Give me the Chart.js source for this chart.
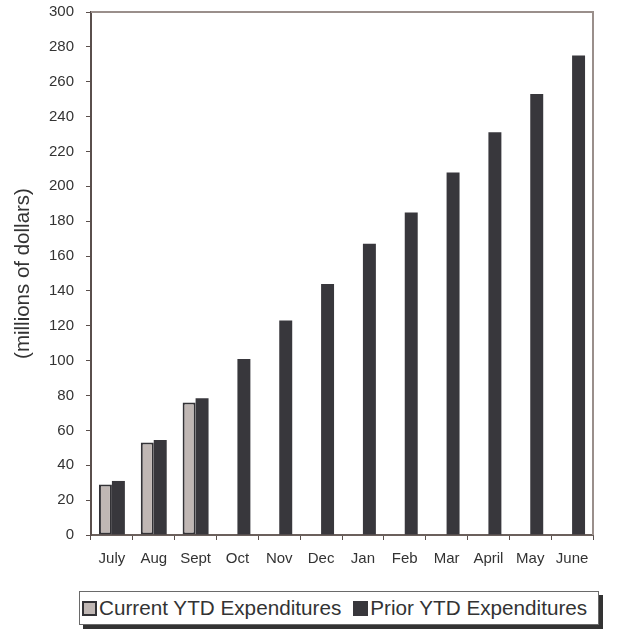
<!DOCTYPE html>
<html>
<head>
<meta charset="utf-8">
<script src="https://cdn.jsdelivr.net/npm/chart.js@4.4.0/dist/chart.umd.min.js"></script>
<style>
body{margin:0;background:#fff;font-family:"Liberation Sans",Arial,sans-serif;}
#wrap{position:relative;width:617px;height:630px;}
#box{position:absolute;left:0;top:0;width:617px;height:580px;}
#legend{position:absolute;left:79px;top:591px;width:518px;height:32px;border:1px solid #6a6a6a;box-shadow:4px 4px 0 #333;background:#fff;display:flex;align-items:center;font-size:20.7px;color:#333;white-space:nowrap;}
#legend .item{display:flex;align-items:center;}
#legend .mark{width:15px;height:15px;box-sizing:border-box;margin-right:2px;}
</style>
</head>
<body>
<div id="wrap">
<div id="box"><canvas id="expChart"></canvas></div>
<div id="legend"></div>
</div>
<script>
//月份
var months = ["July","Aug","Sept","Oct","Nov","Dec","Jan","Feb","Mar","April","May","June"];
//本年累计支出
var currentYtd = [29, 53, 76, null, null, null, null, null, null, null, null, null];
//上年累计支出
var priorYtd = [31, 54.5, 78.5, 101, 123, 144, 167, 185, 208, 231, 253, 275];
var seriesNames = ["Current YTD Expenditures", "Prior YTD Expenditures"];

var ctx = document.getElementById("expChart").getContext("2d");
Chart.defaults.font.family = "'Liberation Sans', Arial, sans-serif";
Chart.defaults.color = "#333";

//画上边和右边的框线
var framePlugin = {
	id: "frame",
	beforeDatasetsDraw: function(chart){
		var a = chart.chartArea, c = chart.ctx;
		c.save();
		c.strokeStyle = "#9a8f8b";
		c.lineWidth = 2;
		c.beginPath();
		c.moveTo(a.left, a.top);
		c.lineTo(a.right, a.top);
		c.lineTo(a.right, a.bottom);
		c.stroke();
		c.restore();
	}
};

var chart = new Chart(ctx, {
	type: "bar",
	data: {
		labels: months,
		datasets: [
			{
				label: seriesNames[0],
				data: currentYtd,
				backgroundColor: "#c0b7b4",
				borderColor: "#333236",
				borderWidth: 2,
				borderSkipped: false
			},
			{
				label: seriesNames[1],
				data: priorYtd,
				backgroundColor: "#38373c",
				borderColor: "#38373c",
				borderWidth: 0
			}]
	},
	options: {
		responsive: true,
		maintainAspectRatio: false,
		animation: false,
		layout: { padding: { top: 12, right: 24, bottom: 0, left: 0 } },
		datasets: { bar: { categoryPercentage: 0.62, barPercentage: 1.0 } },
		plugins: {
			legend: { display: false },
			tooltip: { enabled: false }
		},
		scales: {
			x: {
				grid: { drawOnChartArea: false, drawTicks: true, tickLength: 5, color: "#5a4f4c", lineWidth: 1 },
				border: { color: "#6b605c", width: 2 },
				ticks: { font: { size: 15 }, padding: 10, color: "#333", maxRotation: 0 },
				afterFit: function(scale){ scale.height = 45; }
			},
			y: {
				min: 0,
				max: 300,
				ticks: { stepSize: 20, font: { size: 15 }, padding: 12, color: "#333" },
				grid: { drawOnChartArea: false, drawTicks: true, tickLength: 5, color: "#5a4f4c", lineWidth: 1 },
				border: { color: "#5a4f4c", width: 2 },
				title: { display: true, text: "(millions of dollars)", font: { size: 20.5 }, color: "#333", padding: { top: 11, bottom: 0 } },
				afterFit: function(scale){
					scale.width = 91;
					scale.paddingTop = 0;
					scale.paddingBottom = 0;
				}
			}
		}
	},
	plugins: [framePlugin]
});

//自己做图例
var legendDiv = document.getElementById("legend");
chart.data.datasets.forEach(function(ds, i){
	var item = document.createElement("div");
	item.className = "item";
	item.style.marginLeft = i == 0 ? "2px" : "12px";
	var mark = document.createElement("span");
	mark.className = "mark";
	mark.style.background = ds.backgroundColor;
	mark.style.border = i == 0 ? "2px solid #333236" : "none";
	var txt = document.createElement("span");
	txt.textContent = ds.label;
	item.appendChild(mark);
	item.appendChild(txt);
	legendDiv.appendChild(item);
});
</script>
</body>
</html>
